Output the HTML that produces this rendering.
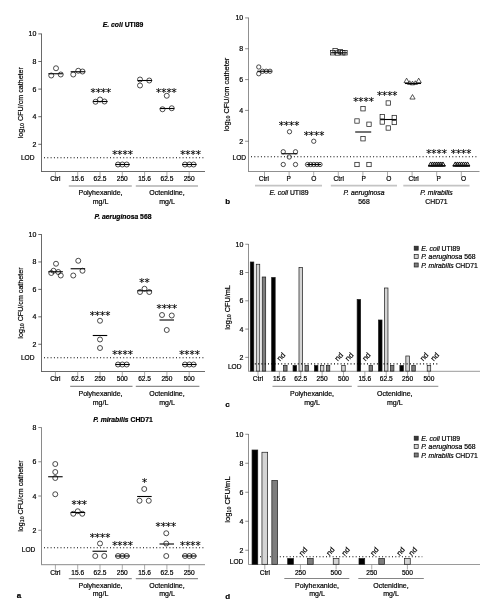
<!DOCTYPE html>
<html><head><meta charset="utf-8"><title>Figure</title>
<style>html,body{margin:0;padding:0;background:#fff}svg{display:block}text{font-family:'Liberation Sans', Arial, sans-serif;stroke:#000;stroke-width:0.2px}.st{font-family:"DejaVu Sans",sans-serif;stroke-width:0.12px}</style>
</head><body>
<svg width="496" height="616" viewBox="0 0 496 616">
<rect width="496" height="616" fill="#fff"/>
<line x1="41.5" y1="33.6" x2="41.5" y2="171.5" stroke="#444" stroke-width="0.8" />
<line x1="41.1" y1="171.5" x2="205" y2="171.5" stroke="#444" stroke-width="0.8" />
<line x1="38.3" y1="144.3" x2="41.5" y2="144.3" stroke="#444" stroke-width="0.8" />
<text x="36.3" y="146.8" font-size="7" text-anchor="end" font-weight="normal" font-style="normal" fill="#000" >2</text>
<line x1="38.3" y1="116.7" x2="41.5" y2="116.7" stroke="#444" stroke-width="0.8" />
<text x="36.3" y="119.2" font-size="7" text-anchor="end" font-weight="normal" font-style="normal" fill="#000" >4</text>
<line x1="38.3" y1="89.1" x2="41.5" y2="89.1" stroke="#444" stroke-width="0.8" />
<text x="36.3" y="91.6" font-size="7" text-anchor="end" font-weight="normal" font-style="normal" fill="#000" >6</text>
<line x1="38.3" y1="61.5" x2="41.5" y2="61.5" stroke="#444" stroke-width="0.8" />
<text x="36.3" y="64.0" font-size="7" text-anchor="end" font-weight="normal" font-style="normal" fill="#000" >8</text>
<line x1="38.3" y1="33.900000000000006" x2="41.5" y2="33.900000000000006" stroke="#444" stroke-width="0.8" />
<text x="36.3" y="36.400000000000006" font-size="7" text-anchor="end" font-weight="normal" font-style="normal" fill="#000" >10</text>
<text x="34.5" y="160.3" font-size="6.6" text-anchor="end" font-weight="normal" font-style="normal" fill="#000" >LOD</text>
<line x1="44" y1="157.8" x2="204.5" y2="157.8" stroke="#000" stroke-width="1.1" stroke-dasharray="1.0 2.3"/>
<line x1="55.4" y1="171.5" x2="55.4" y2="176.5" stroke="#888" stroke-width="0.7" />
<text x="55.4" y="180.8" font-size="6.6" text-anchor="middle" font-weight="normal" font-style="normal" fill="#000" >Ctrl</text>
<line x1="77.7" y1="171.5" x2="77.7" y2="176.5" stroke="#888" stroke-width="0.7" />
<text x="77.7" y="180.8" font-size="6.6" text-anchor="middle" font-weight="normal" font-style="normal" fill="#000" >15.6</text>
<line x1="100.0" y1="171.5" x2="100.0" y2="176.5" stroke="#888" stroke-width="0.7" />
<text x="100.0" y="180.8" font-size="6.6" text-anchor="middle" font-weight="normal" font-style="normal" fill="#000" >62.5</text>
<line x1="122.30000000000001" y1="171.5" x2="122.30000000000001" y2="176.5" stroke="#888" stroke-width="0.7" />
<text x="122.30000000000001" y="180.8" font-size="6.6" text-anchor="middle" font-weight="normal" font-style="normal" fill="#000" >250</text>
<line x1="144.6" y1="171.5" x2="144.6" y2="176.5" stroke="#888" stroke-width="0.7" />
<text x="144.6" y="180.8" font-size="6.6" text-anchor="middle" font-weight="normal" font-style="normal" fill="#000" >15.6</text>
<line x1="166.9" y1="171.5" x2="166.9" y2="176.5" stroke="#888" stroke-width="0.7" />
<text x="166.9" y="180.8" font-size="6.6" text-anchor="middle" font-weight="normal" font-style="normal" fill="#000" >62.5</text>
<line x1="189.20000000000002" y1="171.5" x2="189.20000000000002" y2="176.5" stroke="#888" stroke-width="0.7" />
<text x="189.20000000000002" y="180.8" font-size="6.6" text-anchor="middle" font-weight="normal" font-style="normal" fill="#000" >250</text>
<text x="123" y="27.3" font-size="6.8" text-anchor="middle" font-weight="bold" stroke="none" fill="#000"><tspan font-style="italic">E. coli</tspan> UTI89</text>
<text transform="translate(23.3 102.7) rotate(-90)" font-size="7.15" text-anchor="middle" fill="#000">log<tspan font-size="5.2" dy="1">10</tspan><tspan dy="-1"> CFU/cm catheter</tspan></text>
<line x1="68.8" y1="186.0" x2="131.8" y2="186.0" stroke="#c4c4c4" stroke-width="1.8" />
<line x1="135.8" y1="186.0" x2="198" y2="186.0" stroke="#c4c4c4" stroke-width="1.8" />
<text x="100.5" y="195.0" font-size="7" text-anchor="middle" font-weight="normal" font-style="normal" fill="#000" >Polyhexanide,</text>
<text x="100.5" y="204.0" font-size="7" text-anchor="middle" font-weight="normal" font-style="normal" fill="#000" >mg/L</text>
<text x="167" y="195.0" font-size="7" text-anchor="middle" font-weight="normal" font-style="normal" fill="#000" >Octenidine,</text>
<text x="167" y="204.0" font-size="7" text-anchor="middle" font-weight="normal" font-style="normal" fill="#000" >mg/L</text>
<line x1="48.35" y1="73.75" x2="62.85" y2="73.75" stroke="#000" stroke-width="1.1" />
<circle cx="51.25" cy="75.5" r="2.5" fill="none" stroke="#111" stroke-width="0.75"/>
<circle cx="56" cy="68.25" r="2.5" fill="none" stroke="#111" stroke-width="0.75"/>
<circle cx="60.75" cy="74.5" r="2.5" fill="none" stroke="#111" stroke-width="0.75"/>
<line x1="70.65" y1="71.75" x2="85.15" y2="71.75" stroke="#000" stroke-width="1.1" />
<circle cx="73.25" cy="74.5" r="2.5" fill="none" stroke="#111" stroke-width="0.75"/>
<circle cx="78.25" cy="70.75" r="2.5" fill="none" stroke="#111" stroke-width="0.75"/>
<circle cx="82.5" cy="71.5" r="2.5" fill="none" stroke="#111" stroke-width="0.75"/>
<line x1="93.05" y1="101.5" x2="107.55" y2="101.5" stroke="#000" stroke-width="1.1" />
<circle cx="95.5" cy="101.75" r="2.5" fill="none" stroke="#111" stroke-width="0.75"/>
<circle cx="100" cy="99.5" r="2.5" fill="none" stroke="#111" stroke-width="0.75"/>
<circle cx="104.5" cy="101.5" r="2.5" fill="none" stroke="#111" stroke-width="0.75"/>
<text x="100.8" y="96.25" font-size="10.3" text-anchor="middle" font-weight="normal" font-style="normal" fill="#000" class="st">****</text>
<line x1="115.25" y1="164.5" x2="129.75" y2="164.5" stroke="#000" stroke-width="1.1" />
<circle cx="118" cy="164.5" r="2.5" fill="none" stroke="#111" stroke-width="0.75"/>
<circle cx="122.3" cy="164.5" r="2.5" fill="none" stroke="#111" stroke-width="0.75"/>
<circle cx="126.7" cy="164.5" r="2.5" fill="none" stroke="#111" stroke-width="0.75"/>
<text x="122.5" y="158.0" font-size="10.3" text-anchor="middle" font-weight="normal" font-style="normal" fill="#000" class="st">****</text>
<line x1="137.55" y1="80.5" x2="152.05" y2="80.5" stroke="#000" stroke-width="1.1" />
<circle cx="140" cy="79.5" r="2.5" fill="none" stroke="#111" stroke-width="0.75"/>
<circle cx="140" cy="85.5" r="2.5" fill="none" stroke="#111" stroke-width="0.75"/>
<circle cx="149.25" cy="80.5" r="2.5" fill="none" stroke="#111" stroke-width="0.75"/>
<line x1="159.75" y1="108.5" x2="174.25" y2="108.5" stroke="#000" stroke-width="1.1" />
<circle cx="166.75" cy="95.75" r="2.5" fill="none" stroke="#111" stroke-width="0.75"/>
<circle cx="162.5" cy="109.25" r="2.5" fill="none" stroke="#111" stroke-width="0.75"/>
<circle cx="171.75" cy="108.25" r="2.5" fill="none" stroke="#111" stroke-width="0.75"/>
<text x="166.4" y="95.5" font-size="10.3" text-anchor="middle" font-weight="normal" font-style="normal" fill="#000" class="st">****</text>
<line x1="182.05" y1="164.5" x2="196.55" y2="164.5" stroke="#000" stroke-width="1.1" />
<circle cx="185" cy="164.5" r="2.5" fill="none" stroke="#111" stroke-width="0.75"/>
<circle cx="189.3" cy="164.5" r="2.5" fill="none" stroke="#111" stroke-width="0.75"/>
<circle cx="193.6" cy="164.5" r="2.5" fill="none" stroke="#111" stroke-width="0.75"/>
<text x="190.5" y="158.0" font-size="10.3" text-anchor="middle" font-weight="normal" font-style="normal" fill="#000" class="st">****</text>
<line x1="41.5" y1="234.2" x2="41.5" y2="371.5" stroke="#444" stroke-width="0.8" />
<line x1="41.1" y1="371.5" x2="205" y2="371.5" stroke="#444" stroke-width="0.8" />
<line x1="38.3" y1="344.26" x2="41.5" y2="344.26" stroke="#444" stroke-width="0.8" />
<text x="36.3" y="346.76" font-size="7" text-anchor="end" font-weight="normal" font-style="normal" fill="#000" >2</text>
<line x1="38.3" y1="316.82" x2="41.5" y2="316.82" stroke="#444" stroke-width="0.8" />
<text x="36.3" y="319.32" font-size="7" text-anchor="end" font-weight="normal" font-style="normal" fill="#000" >4</text>
<line x1="38.3" y1="289.38" x2="41.5" y2="289.38" stroke="#444" stroke-width="0.8" />
<text x="36.3" y="291.88" font-size="7" text-anchor="end" font-weight="normal" font-style="normal" fill="#000" >6</text>
<line x1="38.3" y1="261.94" x2="41.5" y2="261.94" stroke="#444" stroke-width="0.8" />
<text x="36.3" y="264.44" font-size="7" text-anchor="end" font-weight="normal" font-style="normal" fill="#000" >8</text>
<line x1="38.3" y1="234.49999999999997" x2="41.5" y2="234.49999999999997" stroke="#444" stroke-width="0.8" />
<text x="36.3" y="236.99999999999997" font-size="7" text-anchor="end" font-weight="normal" font-style="normal" fill="#000" >10</text>
<text x="34.5" y="360.3" font-size="6.6" text-anchor="end" font-weight="normal" font-style="normal" fill="#000" >LOD</text>
<line x1="44" y1="357.8" x2="204.5" y2="357.8" stroke="#000" stroke-width="1.1" stroke-dasharray="1.0 2.3"/>
<line x1="55.4" y1="371.5" x2="55.4" y2="376.5" stroke="#888" stroke-width="0.7" />
<text x="55.4" y="380.8" font-size="6.6" text-anchor="middle" font-weight="normal" font-style="normal" fill="#000" >Ctrl</text>
<line x1="77.7" y1="371.5" x2="77.7" y2="376.5" stroke="#888" stroke-width="0.7" />
<text x="77.7" y="380.8" font-size="6.6" text-anchor="middle" font-weight="normal" font-style="normal" fill="#000" >62.5</text>
<line x1="100.0" y1="371.5" x2="100.0" y2="376.5" stroke="#888" stroke-width="0.7" />
<text x="100.0" y="380.8" font-size="6.6" text-anchor="middle" font-weight="normal" font-style="normal" fill="#000" >250</text>
<line x1="122.30000000000001" y1="371.5" x2="122.30000000000001" y2="376.5" stroke="#888" stroke-width="0.7" />
<text x="122.30000000000001" y="380.8" font-size="6.6" text-anchor="middle" font-weight="normal" font-style="normal" fill="#000" >500</text>
<line x1="144.6" y1="371.5" x2="144.6" y2="376.5" stroke="#888" stroke-width="0.7" />
<text x="144.6" y="380.8" font-size="6.6" text-anchor="middle" font-weight="normal" font-style="normal" fill="#000" >62.5</text>
<line x1="166.9" y1="371.5" x2="166.9" y2="376.5" stroke="#888" stroke-width="0.7" />
<text x="166.9" y="380.8" font-size="6.6" text-anchor="middle" font-weight="normal" font-style="normal" fill="#000" >250</text>
<line x1="189.20000000000002" y1="371.5" x2="189.20000000000002" y2="376.5" stroke="#888" stroke-width="0.7" />
<text x="189.20000000000002" y="380.8" font-size="6.6" text-anchor="middle" font-weight="normal" font-style="normal" fill="#000" >500</text>
<text x="123" y="219.2" font-size="6.8" text-anchor="middle" font-weight="bold" stroke="none" fill="#000"><tspan font-style="italic">P. aeruginosa</tspan> 568</text>
<text transform="translate(23.3 303.0) rotate(-90)" font-size="7.15" text-anchor="middle" fill="#000">log<tspan font-size="5.2" dy="1">10</tspan><tspan dy="-1"> CFU/cm catheter</tspan></text>
<line x1="70.2" y1="386.3" x2="132.5" y2="386.3" stroke="#333" stroke-width="0.7" />
<line x1="135.8" y1="386.3" x2="199.4" y2="386.3" stroke="#333" stroke-width="0.7" />
<text x="100.5" y="395.8" font-size="7" text-anchor="middle" font-weight="normal" font-style="normal" fill="#000" >Polyhexanide,</text>
<text x="100.5" y="404.8" font-size="7" text-anchor="middle" font-weight="normal" font-style="normal" fill="#000" >mg/L</text>
<text x="167" y="395.8" font-size="7" text-anchor="middle" font-weight="normal" font-style="normal" fill="#000" >Octenidine,</text>
<text x="167" y="404.8" font-size="7" text-anchor="middle" font-weight="normal" font-style="normal" fill="#000" >mg/L</text>
<line x1="48.35" y1="271.75" x2="62.85" y2="271.75" stroke="#000" stroke-width="1.1" />
<circle cx="51.25" cy="273" r="2.5" fill="none" stroke="#111" stroke-width="0.75"/>
<circle cx="53.5" cy="270.75" r="2.5" fill="none" stroke="#111" stroke-width="0.75"/>
<circle cx="56" cy="263.75" r="2.5" fill="none" stroke="#111" stroke-width="0.75"/>
<circle cx="58.25" cy="272" r="2.5" fill="none" stroke="#111" stroke-width="0.75"/>
<circle cx="60.75" cy="275.5" r="2.5" fill="none" stroke="#111" stroke-width="0.75"/>
<line x1="70.65" y1="268.75" x2="85.15" y2="268.75" stroke="#000" stroke-width="1.1" />
<circle cx="73.25" cy="275.5" r="2.5" fill="none" stroke="#111" stroke-width="0.75"/>
<circle cx="78.25" cy="260.75" r="2.5" fill="none" stroke="#111" stroke-width="0.75"/>
<circle cx="82.5" cy="270.75" r="2.5" fill="none" stroke="#111" stroke-width="0.75"/>
<line x1="92.75" y1="335.5" x2="107.25" y2="335.5" stroke="#000" stroke-width="1.1" />
<circle cx="100" cy="320.75" r="2.5" fill="none" stroke="#111" stroke-width="0.75"/>
<circle cx="100" cy="339.5" r="2.5" fill="none" stroke="#111" stroke-width="0.75"/>
<circle cx="100" cy="348" r="2.5" fill="none" stroke="#111" stroke-width="0.75"/>
<text x="100" y="318.75" font-size="10.3" text-anchor="middle" font-weight="normal" font-style="normal" fill="#000" class="st">****</text>
<line x1="115.25" y1="364.5" x2="129.75" y2="364.5" stroke="#000" stroke-width="1.1" />
<circle cx="118" cy="364.5" r="2.5" fill="none" stroke="#111" stroke-width="0.75"/>
<circle cx="122.3" cy="364.5" r="2.5" fill="none" stroke="#111" stroke-width="0.75"/>
<circle cx="126.7" cy="364.5" r="2.5" fill="none" stroke="#111" stroke-width="0.75"/>
<text x="122.5" y="358.0" font-size="10.3" text-anchor="middle" font-weight="normal" font-style="normal" fill="#000" class="st">****</text>
<line x1="137.35" y1="290.75" x2="151.85" y2="290.75" stroke="#000" stroke-width="1.1" />
<circle cx="140" cy="292" r="2.5" fill="none" stroke="#111" stroke-width="0.75"/>
<circle cx="144.5" cy="288.75" r="2.5" fill="none" stroke="#111" stroke-width="0.75"/>
<circle cx="149.25" cy="292" r="2.5" fill="none" stroke="#111" stroke-width="0.75"/>
<text x="144.5" y="286.25" font-size="10.3" text-anchor="middle" font-weight="normal" font-style="normal" fill="#000" class="st">**</text>
<line x1="159.5" y1="320" x2="174.0" y2="320" stroke="#000" stroke-width="1.1" />
<circle cx="162" cy="315" r="2.5" fill="none" stroke="#111" stroke-width="0.75"/>
<circle cx="171.75" cy="315.5" r="2.5" fill="none" stroke="#111" stroke-width="0.75"/>
<circle cx="166.75" cy="330" r="2.5" fill="none" stroke="#111" stroke-width="0.75"/>
<text x="166.8" y="311.5" font-size="10.3" text-anchor="middle" font-weight="normal" font-style="normal" fill="#000" class="st">****</text>
<line x1="182.05" y1="364.5" x2="196.55" y2="364.5" stroke="#000" stroke-width="1.1" />
<circle cx="185" cy="364.5" r="2.5" fill="none" stroke="#111" stroke-width="0.75"/>
<circle cx="189.3" cy="364.5" r="2.5" fill="none" stroke="#111" stroke-width="0.75"/>
<circle cx="193.6" cy="364.5" r="2.5" fill="none" stroke="#111" stroke-width="0.75"/>
<text x="189.5" y="358.0" font-size="10.3" text-anchor="middle" font-weight="normal" font-style="normal" fill="#000" class="st">****</text>
<line x1="41.5" y1="427.2" x2="41.5" y2="564.7" stroke="#8a8a8a" stroke-width="1.0" />
<line x1="41.0" y1="564.7" x2="205" y2="564.7" stroke="#8a8a8a" stroke-width="1.0" />
<line x1="38.3" y1="530.26" x2="41.5" y2="530.26" stroke="#8a8a8a" stroke-width="1.0" />
<text x="36.3" y="532.76" font-size="7" text-anchor="end" font-weight="normal" font-style="normal" fill="#000" >2</text>
<line x1="38.3" y1="496.02" x2="41.5" y2="496.02" stroke="#8a8a8a" stroke-width="1.0" />
<text x="36.3" y="498.52" font-size="7" text-anchor="end" font-weight="normal" font-style="normal" fill="#000" >4</text>
<line x1="38.3" y1="461.78" x2="41.5" y2="461.78" stroke="#8a8a8a" stroke-width="1.0" />
<text x="36.3" y="464.28" font-size="7" text-anchor="end" font-weight="normal" font-style="normal" fill="#000" >6</text>
<line x1="38.3" y1="427.53999999999996" x2="41.5" y2="427.53999999999996" stroke="#8a8a8a" stroke-width="1.0" />
<text x="36.3" y="430.03999999999996" font-size="7" text-anchor="end" font-weight="normal" font-style="normal" fill="#000" >8</text>
<text x="35.3" y="552.1" font-size="6.6" text-anchor="end" font-weight="normal" font-style="normal" fill="#000" >LOD</text>
<line x1="44" y1="547.8" x2="204.5" y2="547.8" stroke="#000" stroke-width="1.1" stroke-dasharray="1.0 2.3"/>
<line x1="55.4" y1="564.7" x2="55.4" y2="569.7" stroke="#888" stroke-width="0.7" />
<text x="55.4" y="575.0" font-size="6.6" text-anchor="middle" font-weight="normal" font-style="normal" fill="#000" >Ctrl</text>
<line x1="77.7" y1="564.7" x2="77.7" y2="569.7" stroke="#888" stroke-width="0.7" />
<text x="77.7" y="575.0" font-size="6.6" text-anchor="middle" font-weight="normal" font-style="normal" fill="#000" >15.6</text>
<line x1="100.0" y1="564.7" x2="100.0" y2="569.7" stroke="#888" stroke-width="0.7" />
<text x="100.0" y="575.0" font-size="6.6" text-anchor="middle" font-weight="normal" font-style="normal" fill="#000" >62.5</text>
<line x1="122.30000000000001" y1="564.7" x2="122.30000000000001" y2="569.7" stroke="#888" stroke-width="0.7" />
<text x="122.30000000000001" y="575.0" font-size="6.6" text-anchor="middle" font-weight="normal" font-style="normal" fill="#000" >250</text>
<line x1="144.6" y1="564.7" x2="144.6" y2="569.7" stroke="#888" stroke-width="0.7" />
<text x="144.6" y="575.0" font-size="6.6" text-anchor="middle" font-weight="normal" font-style="normal" fill="#000" >15.6</text>
<line x1="166.9" y1="564.7" x2="166.9" y2="569.7" stroke="#888" stroke-width="0.7" />
<text x="166.9" y="575.0" font-size="6.6" text-anchor="middle" font-weight="normal" font-style="normal" fill="#000" >62.5</text>
<line x1="189.20000000000002" y1="564.7" x2="189.20000000000002" y2="569.7" stroke="#888" stroke-width="0.7" />
<text x="189.20000000000002" y="575.0" font-size="6.6" text-anchor="middle" font-weight="normal" font-style="normal" fill="#000" >250</text>
<text x="123" y="422.0" font-size="6.8" text-anchor="middle" font-weight="bold" stroke="none" fill="#000"><tspan font-style="italic">P. mirabilis</tspan> CHD71</text>
<text transform="translate(23.3 496.1) rotate(-90)" font-size="7.15" text-anchor="middle" fill="#000">log<tspan font-size="5.2" dy="1">10</tspan><tspan dy="-1"> CFU/cm catheter</tspan></text>
<line x1="68.8" y1="578.7" x2="131.8" y2="578.7" stroke="#333" stroke-width="0.7" />
<line x1="135.8" y1="578.7" x2="198" y2="578.7" stroke="#333" stroke-width="0.7" />
<text x="100.5" y="587.5" font-size="7" text-anchor="middle" font-weight="normal" font-style="normal" fill="#000" >Polyhexanide,</text>
<text x="100.5" y="595.8" font-size="7" text-anchor="middle" font-weight="normal" font-style="normal" fill="#000" >mg/L</text>
<text x="167" y="587.5" font-size="7" text-anchor="middle" font-weight="normal" font-style="normal" fill="#000" >Octenidine,</text>
<text x="167" y="595.8" font-size="7" text-anchor="middle" font-weight="normal" font-style="normal" fill="#000" >mg/L</text>
<line x1="48.15" y1="476.75" x2="62.65" y2="476.75" stroke="#000" stroke-width="1.1" />
<circle cx="55.25" cy="464" r="2.5" fill="none" stroke="#111" stroke-width="0.75"/>
<circle cx="55.25" cy="472" r="2.5" fill="none" stroke="#111" stroke-width="0.75"/>
<circle cx="55.25" cy="478" r="2.5" fill="none" stroke="#111" stroke-width="0.75"/>
<circle cx="55.25" cy="494.25" r="2.5" fill="none" stroke="#111" stroke-width="0.75"/>
<line x1="70.65" y1="512.5" x2="85.15" y2="512.5" stroke="#000" stroke-width="1.1" />
<circle cx="73.25" cy="513.75" r="2.5" fill="none" stroke="#111" stroke-width="0.75"/>
<circle cx="77.75" cy="511.25" r="2.5" fill="none" stroke="#111" stroke-width="0.75"/>
<circle cx="82.25" cy="513.75" r="2.5" fill="none" stroke="#111" stroke-width="0.75"/>
<text x="79.25" y="507.5" font-size="10.3" text-anchor="middle" font-weight="normal" font-style="normal" fill="#000" class="st">***</text>
<line x1="92.5" y1="551.25" x2="107.0" y2="551.25" stroke="#000" stroke-width="1.1" />
<circle cx="100" cy="543.5" r="2.5" fill="none" stroke="#111" stroke-width="0.75"/>
<circle cx="95.25" cy="556" r="2.5" fill="none" stroke="#111" stroke-width="0.75"/>
<circle cx="104.25" cy="556" r="2.5" fill="none" stroke="#111" stroke-width="0.75"/>
<text x="100" y="541.25" font-size="10.3" text-anchor="middle" font-weight="normal" font-style="normal" fill="#000" class="st">****</text>
<line x1="115.25" y1="556" x2="129.75" y2="556" stroke="#000" stroke-width="1.1" />
<circle cx="118" cy="556" r="2.5" fill="none" stroke="#111" stroke-width="0.75"/>
<circle cx="122.3" cy="556" r="2.5" fill="none" stroke="#111" stroke-width="0.75"/>
<circle cx="126.7" cy="556" r="2.5" fill="none" stroke="#111" stroke-width="0.75"/>
<text x="122.5" y="549.25" font-size="10.3" text-anchor="middle" font-weight="normal" font-style="normal" fill="#000" class="st">****</text>
<line x1="137.15" y1="496.5" x2="151.65" y2="496.5" stroke="#000" stroke-width="1.1" />
<circle cx="144.25" cy="489" r="2.5" fill="none" stroke="#111" stroke-width="0.75"/>
<circle cx="139.5" cy="500.75" r="2.5" fill="none" stroke="#111" stroke-width="0.75"/>
<circle cx="148.75" cy="500.75" r="2.5" fill="none" stroke="#111" stroke-width="0.75"/>
<text x="144.5" y="486.25" font-size="10.3" text-anchor="middle" font-weight="normal" font-style="normal" fill="#000" class="st">*</text>
<line x1="159.5" y1="544" x2="174.0" y2="544" stroke="#000" stroke-width="1.1" />
<circle cx="166.25" cy="533.25" r="2.5" fill="none" stroke="#111" stroke-width="0.75"/>
<circle cx="166.25" cy="543.5" r="2.5" fill="none" stroke="#111" stroke-width="0.75"/>
<circle cx="166.25" cy="556" r="2.5" fill="none" stroke="#111" stroke-width="0.75"/>
<text x="165.8" y="530.0" font-size="10.3" text-anchor="middle" font-weight="normal" font-style="normal" fill="#000" class="st">****</text>
<line x1="182.05" y1="556" x2="196.55" y2="556" stroke="#000" stroke-width="1.1" />
<circle cx="185" cy="556" r="2.5" fill="none" stroke="#111" stroke-width="0.75"/>
<circle cx="189.3" cy="556" r="2.5" fill="none" stroke="#111" stroke-width="0.75"/>
<circle cx="193.6" cy="556" r="2.5" fill="none" stroke="#111" stroke-width="0.75"/>
<text x="190.3" y="548.75" font-size="10.3" text-anchor="middle" font-weight="normal" font-style="normal" fill="#000" class="st">****</text>
<text x="16.8" y="598" font-size="8" text-anchor="start" font-weight="bold" font-style="normal" fill="#000" >a</text>
<line x1="248.5" y1="17.599999999999998" x2="248.5" y2="171.5" stroke="#444" stroke-width="0.6" />
<line x1="248.2" y1="171.5" x2="479.5" y2="171.5" stroke="#444" stroke-width="0.6" />
<line x1="245.1" y1="141.26" x2="248.5" y2="141.26" stroke="#444" stroke-width="0.6" />
<text x="243.2" y="143.76" font-size="7" text-anchor="end" font-weight="normal" font-style="normal" fill="#000" >2</text>
<line x1="245.1" y1="110.41999999999999" x2="248.5" y2="110.41999999999999" stroke="#444" stroke-width="0.6" />
<text x="243.2" y="112.91999999999999" font-size="7" text-anchor="end" font-weight="normal" font-style="normal" fill="#000" >4</text>
<line x1="245.1" y1="79.58" x2="248.5" y2="79.58" stroke="#444" stroke-width="0.6" />
<text x="243.2" y="82.08" font-size="7" text-anchor="end" font-weight="normal" font-style="normal" fill="#000" >6</text>
<line x1="245.1" y1="48.739999999999995" x2="248.5" y2="48.739999999999995" stroke="#444" stroke-width="0.6" />
<text x="243.2" y="51.239999999999995" font-size="7" text-anchor="end" font-weight="normal" font-style="normal" fill="#000" >8</text>
<line x1="245.1" y1="17.900000000000006" x2="248.5" y2="17.900000000000006" stroke="#444" stroke-width="0.6" />
<text x="243.2" y="20.400000000000006" font-size="7" text-anchor="end" font-weight="normal" font-style="normal" fill="#000" >10</text>
<text x="246.1" y="159.6" font-size="6.6" text-anchor="end" font-weight="normal" font-style="normal" fill="#000" >LOD</text>
<line x1="251" y1="156.8" x2="476.5" y2="156.8" stroke="#000" stroke-width="1.1" stroke-dasharray="1.0 2.3"/>
<text transform="translate(229 94.5) rotate(-90)" font-size="7.4" text-anchor="middle" fill="#000">log<tspan font-size="5.2" dy="1">10</tspan><tspan dy="-1"> CFU/cm catheter</tspan></text>
<line x1="264.5" y1="171.5" x2="264.5" y2="176.5" stroke="#888" stroke-width="0.7" />
<text x="263.8" y="181.0" font-size="6.6" text-anchor="middle" font-weight="normal" font-style="normal" fill="#000" >Ctrl</text>
<line x1="289.1" y1="171.5" x2="289.1" y2="176.5" stroke="#888" stroke-width="0.7" />
<text x="288.78000000000003" y="181.0" font-size="6.6" text-anchor="middle" font-weight="normal" font-style="normal" fill="#000" >P</text>
<line x1="313.7" y1="171.5" x2="313.7" y2="176.5" stroke="#888" stroke-width="0.7" />
<text x="313.76" y="181.0" font-size="6.6" text-anchor="middle" font-weight="normal" font-style="normal" fill="#000" >O</text>
<line x1="338.3" y1="171.5" x2="338.3" y2="176.5" stroke="#888" stroke-width="0.7" />
<text x="338.74" y="181.0" font-size="6.6" text-anchor="middle" font-weight="normal" font-style="normal" fill="#000" >Ctrl</text>
<line x1="362.9" y1="171.5" x2="362.9" y2="176.5" stroke="#888" stroke-width="0.7" />
<text x="363.72" y="181.0" font-size="6.6" text-anchor="middle" font-weight="normal" font-style="normal" fill="#000" >P</text>
<line x1="387.5" y1="171.5" x2="387.5" y2="176.5" stroke="#888" stroke-width="0.7" />
<text x="388.70000000000005" y="181.0" font-size="6.6" text-anchor="middle" font-weight="normal" font-style="normal" fill="#000" >O</text>
<line x1="412.1" y1="171.5" x2="412.1" y2="176.5" stroke="#888" stroke-width="0.7" />
<text x="413.68" y="181.0" font-size="6.6" text-anchor="middle" font-weight="normal" font-style="normal" fill="#000" >Ctrl</text>
<line x1="436.70000000000005" y1="171.5" x2="436.70000000000005" y2="176.5" stroke="#888" stroke-width="0.7" />
<text x="438.66" y="181.0" font-size="6.6" text-anchor="middle" font-weight="normal" font-style="normal" fill="#000" >P</text>
<line x1="461.3" y1="171.5" x2="461.3" y2="176.5" stroke="#888" stroke-width="0.7" />
<text x="463.64" y="181.0" font-size="6.6" text-anchor="middle" font-weight="normal" font-style="normal" fill="#000" >O</text>
<line x1="255" y1="185.7" x2="322" y2="185.7" stroke="#c4c4c4" stroke-width="1.8" />
<line x1="330.8" y1="185.7" x2="397" y2="185.7" stroke="#c4c4c4" stroke-width="1.8" />
<line x1="403.3" y1="185.7" x2="469.5" y2="185.7" stroke="#c4c4c4" stroke-width="1.8" />
<text x="289" y="195.2" font-size="6.8" text-anchor="middle" fill="#000"><tspan font-style="italic">E. coli</tspan> UTI89</text>
<text x="364" y="195.2" font-size="6.8" text-anchor="middle" font-style="italic" fill="#000">P. aeruginosa</text>
<text x="364" y="203.9" font-size="6.8" text-anchor="middle" font-weight="normal" font-style="normal" fill="#000" >568</text>
<text x="436.5" y="195.2" font-size="6.8" text-anchor="middle" font-style="italic" fill="#000">P. mirabilis</text>
<text x="436.5" y="203.9" font-size="6.8" text-anchor="middle" font-weight="normal" font-style="normal" fill="#000" >CHD71</text>
<text x="225.2" y="204.2" font-size="8" text-anchor="start" font-weight="bold" font-style="normal" fill="#000" >b</text>
<line x1="257.25" y1="71.25" x2="271.75" y2="71.25" stroke="#000" stroke-width="1.1" />
<circle cx="258.75" cy="67" r="2.15" fill="none" stroke="#111" stroke-width="0.75"/>
<circle cx="258.75" cy="73.75" r="2.15" fill="none" stroke="#111" stroke-width="0.75"/>
<circle cx="262.5" cy="71.25" r="2.15" fill="none" stroke="#111" stroke-width="0.75"/>
<circle cx="266.25" cy="71.25" r="2.15" fill="none" stroke="#111" stroke-width="0.75"/>
<circle cx="270" cy="71.25" r="2.15" fill="none" stroke="#111" stroke-width="0.75"/>
<line x1="281.4" y1="153.75" x2="297.4" y2="153.75" stroke="#000" stroke-width="1.1" />
<circle cx="289.5" cy="131.75" r="2.15" fill="none" stroke="#111" stroke-width="0.75"/>
<circle cx="283.25" cy="151.75" r="2.15" fill="none" stroke="#111" stroke-width="0.75"/>
<circle cx="295.5" cy="151.75" r="2.15" fill="none" stroke="#111" stroke-width="0.75"/>
<circle cx="289.25" cy="157" r="2.15" fill="none" stroke="#111" stroke-width="0.75"/>
<circle cx="283.25" cy="164.5" r="2.15" fill="none" stroke="#111" stroke-width="0.75"/>
<circle cx="295.5" cy="164.5" r="2.15" fill="none" stroke="#111" stroke-width="0.75"/>
<text x="289" y="128.8" font-size="10.3" text-anchor="middle" font-weight="normal" font-style="normal" fill="#000" class="st">****</text>
<line x1="306.5" y1="164.5" x2="321.0" y2="164.5" stroke="#000" stroke-width="1.1" />
<circle cx="313.75" cy="141.25" r="2.15" fill="none" stroke="#111" stroke-width="0.75"/>
<circle cx="307.5" cy="164.5" r="2.15" fill="none" stroke="#111" stroke-width="0.75"/>
<circle cx="310.6" cy="164.5" r="2.15" fill="none" stroke="#111" stroke-width="0.75"/>
<circle cx="313.75" cy="164.5" r="2.15" fill="none" stroke="#111" stroke-width="0.75"/>
<circle cx="316.9" cy="164.5" r="2.15" fill="none" stroke="#111" stroke-width="0.75"/>
<circle cx="320" cy="164.5" r="2.15" fill="none" stroke="#111" stroke-width="0.75"/>
<text x="314" y="139.25" font-size="10.3" text-anchor="middle" font-weight="normal" font-style="normal" fill="#000" class="st">****</text>
<line x1="331.0" y1="52.8" x2="347.0" y2="52.8" stroke="#000" stroke-width="1.1" />
<rect x="330.425" y="50.625" width="4.35" height="4.35" fill="none" stroke="#111" stroke-width="0.7"/>
<rect x="332.925" y="48.425000000000004" width="4.35" height="4.35" fill="none" stroke="#111" stroke-width="0.7"/>
<rect x="338.22499999999997" y="49.525000000000006" width="4.35" height="4.35" fill="none" stroke="#111" stroke-width="0.7"/>
<rect x="335.525" y="50.825" width="4.35" height="4.35" fill="none" stroke="#111" stroke-width="0.7"/>
<rect x="340.625" y="50.625" width="4.35" height="4.35" fill="none" stroke="#111" stroke-width="0.7"/>
<rect x="342.825" y="50.625" width="4.35" height="4.35" fill="none" stroke="#111" stroke-width="0.7"/>
<line x1="355.2" y1="132" x2="371.2" y2="132" stroke="#000" stroke-width="1.1" />
<rect x="360.825" y="106.575" width="4.35" height="4.35" fill="none" stroke="#111" stroke-width="0.7"/>
<rect x="354.825" y="118.825" width="4.35" height="4.35" fill="none" stroke="#111" stroke-width="0.7"/>
<rect x="366.825" y="122.075" width="4.35" height="4.35" fill="none" stroke="#111" stroke-width="0.7"/>
<rect x="360.825" y="136.575" width="4.35" height="4.35" fill="none" stroke="#111" stroke-width="0.7"/>
<rect x="354.825" y="162.325" width="4.35" height="4.35" fill="none" stroke="#111" stroke-width="0.7"/>
<rect x="366.825" y="162.325" width="4.35" height="4.35" fill="none" stroke="#111" stroke-width="0.7"/>
<text x="363.5" y="105.0" font-size="10.3" text-anchor="middle" font-weight="normal" font-style="normal" fill="#000" class="st">****</text>
<line x1="380.3" y1="119.5" x2="396.3" y2="119.5" stroke="#000" stroke-width="1.1" />
<rect x="386.075" y="100.825" width="4.35" height="4.35" fill="none" stroke="#111" stroke-width="0.7"/>
<rect x="380.075" y="114.575" width="4.35" height="4.35" fill="none" stroke="#111" stroke-width="0.7"/>
<rect x="392.075" y="115.325" width="4.35" height="4.35" fill="none" stroke="#111" stroke-width="0.7"/>
<rect x="380.075" y="119.825" width="4.35" height="4.35" fill="none" stroke="#111" stroke-width="0.7"/>
<rect x="392.075" y="120.325" width="4.35" height="4.35" fill="none" stroke="#111" stroke-width="0.7"/>
<rect x="386.075" y="125.825" width="4.35" height="4.35" fill="none" stroke="#111" stroke-width="0.7"/>
<text x="387.2" y="99.2" font-size="10.3" text-anchor="middle" font-weight="normal" font-style="normal" fill="#000" class="st">****</text>
<line x1="405.0" y1="83.5" x2="421.0" y2="83.5" stroke="#000" stroke-width="1.1" />
<path d="M404.00 82.65L409.20 82.65L406.60 78.15Z" fill="none" stroke="#111" stroke-width="0.7"/>
<path d="M407.60 84.42L411.80 84.42L409.70 80.78Z" fill="none" stroke="#111" stroke-width="0.7"/>
<path d="M410.40 84.82L414.60 84.82L412.50 81.18Z" fill="none" stroke="#111" stroke-width="0.7"/>
<path d="M413.20 84.42L417.40 84.42L415.30 80.78Z" fill="none" stroke="#111" stroke-width="0.7"/>
<path d="M416.10 82.65L421.30 82.65L418.70 78.15Z" fill="none" stroke="#111" stroke-width="0.7"/>
<path d="M409.90 99.05L415.10 99.05L412.50 94.55Z" fill="none" stroke="#111" stroke-width="0.7"/>
<line x1="428.2" y1="165.8" x2="445.40000000000003" y2="165.8" stroke="#000" stroke-width="1.5" />
<path d="M428.30 166.04L433.00 166.04L430.65 161.96Z" fill="none" stroke="#111" stroke-width="1.0"/>
<path d="M430.35 166.04L435.05 166.04L432.70 161.96Z" fill="none" stroke="#111" stroke-width="1.0"/>
<path d="M432.40 166.04L437.10 166.04L434.75 161.96Z" fill="none" stroke="#111" stroke-width="1.0"/>
<path d="M434.45 166.04L439.15 166.04L436.80 161.96Z" fill="none" stroke="#111" stroke-width="1.0"/>
<path d="M436.50 166.04L441.20 166.04L438.85 161.96Z" fill="none" stroke="#111" stroke-width="1.0"/>
<path d="M438.55 166.04L443.25 166.04L440.90 161.96Z" fill="none" stroke="#111" stroke-width="1.0"/>
<path d="M440.60 166.04L445.30 166.04L442.95 161.96Z" fill="none" stroke="#111" stroke-width="1.0"/>
<text x="436.5" y="156.8" font-size="10.3" text-anchor="middle" font-weight="normal" font-style="normal" fill="#000" class="st">****</text>
<line x1="452.79999999999995" y1="165.8" x2="470.0" y2="165.8" stroke="#000" stroke-width="1.5" />
<path d="M452.90 166.04L457.60 166.04L455.25 161.96Z" fill="none" stroke="#111" stroke-width="1.0"/>
<path d="M454.95 166.04L459.65 166.04L457.30 161.96Z" fill="none" stroke="#111" stroke-width="1.0"/>
<path d="M457.00 166.04L461.70 166.04L459.35 161.96Z" fill="none" stroke="#111" stroke-width="1.0"/>
<path d="M459.05 166.04L463.75 166.04L461.40 161.96Z" fill="none" stroke="#111" stroke-width="1.0"/>
<path d="M461.10 166.04L465.80 166.04L463.45 161.96Z" fill="none" stroke="#111" stroke-width="1.0"/>
<path d="M463.15 166.04L467.85 166.04L465.50 161.96Z" fill="none" stroke="#111" stroke-width="1.0"/>
<path d="M465.20 166.04L469.90 166.04L467.55 161.96Z" fill="none" stroke="#111" stroke-width="1.0"/>
<text x="461.09999999999997" y="156.8" font-size="10.3" text-anchor="middle" font-weight="normal" font-style="normal" fill="#000" class="st">****</text>
<line x1="248.5" y1="244" x2="248.5" y2="371.3" stroke="#444" stroke-width="0.6" />
<line x1="248.2" y1="371.3" x2="480" y2="371.3" stroke="#9a9a9a" stroke-width="1.0" />
<line x1="245.3" y1="357.36" x2="248.5" y2="357.36" stroke="#444" stroke-width="0.6" />
<text x="243.3" y="359.86" font-size="7" text-anchor="end" font-weight="normal" font-style="normal" fill="#000" >2</text>
<line x1="245.3" y1="329.08" x2="248.5" y2="329.08" stroke="#444" stroke-width="0.6" />
<text x="243.3" y="331.58" font-size="7" text-anchor="end" font-weight="normal" font-style="normal" fill="#000" >4</text>
<line x1="245.3" y1="300.8" x2="248.5" y2="300.8" stroke="#444" stroke-width="0.6" />
<text x="243.3" y="303.3" font-size="7" text-anchor="end" font-weight="normal" font-style="normal" fill="#000" >6</text>
<line x1="245.3" y1="272.52" x2="248.5" y2="272.52" stroke="#444" stroke-width="0.6" />
<text x="243.3" y="275.02" font-size="7" text-anchor="end" font-weight="normal" font-style="normal" fill="#000" >8</text>
<line x1="245.3" y1="244.24" x2="248.5" y2="244.24" stroke="#444" stroke-width="0.6" />
<text x="243.3" y="246.74" font-size="7" text-anchor="end" font-weight="normal" font-style="normal" fill="#000" >10</text>
<text x="241.5" y="368.90000000000003" font-size="6.6" text-anchor="end" font-weight="normal" font-style="normal" fill="#000" >LOD</text>
<text transform="translate(229.5 307.5) rotate(-90)" font-size="7.3" text-anchor="middle" fill="#000">log<tspan font-size="5.2" dy="1">10</tspan><tspan dy="-1"> CFU/mL</tspan></text>
<line x1="258.0" y1="371.3" x2="258.0" y2="376.3" stroke="#888" stroke-width="0.7" />
<text x="258.0" y="380.8" font-size="6.6" text-anchor="middle" font-weight="normal" font-style="normal" fill="#000" >Ctrl</text>
<rect x="250.3" y="262" width="3.5" height="109.10000000000002" fill="#000" stroke="#1a1a1a" stroke-width="0.7"/>
<rect x="256.25" y="264.25" width="3.5" height="106.85000000000002" fill="#d4d4d4" stroke="#1a1a1a" stroke-width="0.7"/>
<rect x="262.2" y="277" width="3.5" height="94.10000000000002" fill="#7d7d7d" stroke="#1a1a1a" stroke-width="0.7"/>
<line x1="279.37" y1="371.3" x2="279.37" y2="376.3" stroke="#888" stroke-width="0.7" />
<text x="279.37" y="380.8" font-size="6.6" text-anchor="middle" font-weight="normal" font-style="normal" fill="#000" >15.6</text>
<rect x="271.67" y="277.5" width="3.5" height="93.60000000000002" fill="#000" stroke="#1a1a1a" stroke-width="0.7"/>
<text transform="translate(281.27 357.0) rotate(-47)" font-size="7.6" text-anchor="middle" y="2.2" fill="#000" stroke-width="0.3">nd</text>
<rect x="283.57" y="365.5" width="3.5" height="5.600000000000023" fill="#7d7d7d" stroke="#1a1a1a" stroke-width="0.7"/>
<line x1="300.74" y1="371.3" x2="300.74" y2="376.3" stroke="#888" stroke-width="0.7" />
<text x="300.74" y="380.8" font-size="6.6" text-anchor="middle" font-weight="normal" font-style="normal" fill="#000" >62.5</text>
<rect x="293.04" y="365.5" width="3.5" height="5.600000000000023" fill="#000" stroke="#1a1a1a" stroke-width="0.7"/>
<rect x="298.99" y="267.5" width="3.5" height="103.60000000000002" fill="#d4d4d4" stroke="#1a1a1a" stroke-width="0.7"/>
<rect x="304.94" y="365.5" width="3.5" height="5.600000000000023" fill="#7d7d7d" stroke="#1a1a1a" stroke-width="0.7"/>
<line x1="322.11" y1="371.3" x2="322.11" y2="376.3" stroke="#888" stroke-width="0.7" />
<text x="322.11" y="380.8" font-size="6.6" text-anchor="middle" font-weight="normal" font-style="normal" fill="#000" >250</text>
<rect x="314.41" y="365.5" width="3.5" height="5.600000000000023" fill="#000" stroke="#1a1a1a" stroke-width="0.7"/>
<rect x="320.36" y="365.5" width="3.5" height="5.600000000000023" fill="#d4d4d4" stroke="#1a1a1a" stroke-width="0.7"/>
<rect x="326.31" y="365.5" width="3.5" height="5.600000000000023" fill="#7d7d7d" stroke="#1a1a1a" stroke-width="0.7"/>
<line x1="343.48" y1="371.3" x2="343.48" y2="376.3" stroke="#888" stroke-width="0.7" />
<text x="343.48" y="380.8" font-size="6.6" text-anchor="middle" font-weight="normal" font-style="normal" fill="#000" >500</text>
<text transform="translate(339.03000000000003 357.0) rotate(-47)" font-size="7.6" text-anchor="middle" y="2.2" fill="#000" stroke-width="0.3">nd</text>
<rect x="341.73" y="365.5" width="3.5" height="5.600000000000023" fill="#d4d4d4" stroke="#1a1a1a" stroke-width="0.7"/>
<text transform="translate(349.63 357.0) rotate(-47)" font-size="7.6" text-anchor="middle" y="2.2" fill="#000" stroke-width="0.3">nd</text>
<line x1="364.85" y1="371.3" x2="364.85" y2="376.3" stroke="#888" stroke-width="0.7" />
<text x="364.85" y="380.8" font-size="6.6" text-anchor="middle" font-weight="normal" font-style="normal" fill="#000" >15.6</text>
<rect x="357.15000000000003" y="299.5" width="3.5" height="71.60000000000002" fill="#000" stroke="#1a1a1a" stroke-width="0.7"/>
<text transform="translate(366.75 357.0) rotate(-47)" font-size="7.6" text-anchor="middle" y="2.2" fill="#000" stroke-width="0.3">nd</text>
<rect x="369.05" y="365.5" width="3.5" height="5.600000000000023" fill="#7d7d7d" stroke="#1a1a1a" stroke-width="0.7"/>
<line x1="386.22" y1="371.3" x2="386.22" y2="376.3" stroke="#888" stroke-width="0.7" />
<text x="386.22" y="380.8" font-size="6.6" text-anchor="middle" font-weight="normal" font-style="normal" fill="#000" >62.5</text>
<rect x="378.52000000000004" y="320" width="3.5" height="51.10000000000002" fill="#000" stroke="#1a1a1a" stroke-width="0.7"/>
<rect x="384.47" y="288" width="3.5" height="83.10000000000002" fill="#d4d4d4" stroke="#1a1a1a" stroke-width="0.7"/>
<rect x="390.42" y="365.5" width="3.5" height="5.600000000000023" fill="#7d7d7d" stroke="#1a1a1a" stroke-width="0.7"/>
<line x1="407.59000000000003" y1="371.3" x2="407.59000000000003" y2="376.3" stroke="#888" stroke-width="0.7" />
<text x="407.59000000000003" y="380.8" font-size="6.6" text-anchor="middle" font-weight="normal" font-style="normal" fill="#000" >250</text>
<rect x="399.89000000000004" y="365.5" width="3.5" height="5.600000000000023" fill="#000" stroke="#1a1a1a" stroke-width="0.7"/>
<rect x="405.84000000000003" y="356" width="3.5" height="15.100000000000023" fill="#d4d4d4" stroke="#1a1a1a" stroke-width="0.7"/>
<rect x="411.79" y="365.5" width="3.5" height="5.600000000000023" fill="#7d7d7d" stroke="#1a1a1a" stroke-width="0.7"/>
<line x1="428.96000000000004" y1="371.3" x2="428.96000000000004" y2="376.3" stroke="#888" stroke-width="0.7" />
<text x="428.96000000000004" y="380.8" font-size="6.6" text-anchor="middle" font-weight="normal" font-style="normal" fill="#000" >500</text>
<text transform="translate(424.51000000000005 357.0) rotate(-47)" font-size="7.6" text-anchor="middle" y="2.2" fill="#000" stroke-width="0.3">nd</text>
<rect x="427.21000000000004" y="365.5" width="3.5" height="5.600000000000023" fill="#d4d4d4" stroke="#1a1a1a" stroke-width="0.7"/>
<text transform="translate(435.11 357.0) rotate(-47)" font-size="7.6" text-anchor="middle" y="2.2" fill="#000" stroke-width="0.3">nd</text>
<line x1="254.8" y1="363.9" x2="437.5" y2="363.9" stroke="#000" stroke-width="1.1" stroke-dasharray="1.0 2.3"/>
<line x1="272.5" y1="386.3" x2="351.8" y2="386.3" stroke="#333" stroke-width="0.6" />
<line x1="357.5" y1="386.3" x2="438.3" y2="386.3" stroke="#333" stroke-width="0.6" />
<text x="312" y="396.2" font-size="7" text-anchor="middle" font-weight="normal" font-style="normal" fill="#000" >Polyhexanide,</text>
<text x="312" y="405.0" font-size="7" text-anchor="middle" font-weight="normal" font-style="normal" fill="#000" >mg/L</text>
<text x="394.8" y="396.2" font-size="7" text-anchor="middle" font-weight="normal" font-style="normal" fill="#000" >Octenidine,</text>
<text x="394.8" y="405.0" font-size="7" text-anchor="middle" font-weight="normal" font-style="normal" fill="#000" >mg/L</text>
<text x="225.2" y="407.4" font-size="8" text-anchor="start" font-weight="bold" font-style="normal" fill="#000" >c</text>
<rect x="414.2" y="246.20000000000002" width="4" height="4" fill="#3a3a3a" stroke="#1a1a1a" stroke-width="0.7"/>
<text x="421.2" y="250.8" font-size="6.8" fill="#000"><tspan font-style="italic">E. coli</tspan> UTI89</text>
<rect x="414.2" y="254.6" width="4" height="4" fill="#d4d4d4" stroke="#1a1a1a" stroke-width="0.7"/>
<text x="421.2" y="259.2" font-size="6.8" fill="#000"><tspan font-style="italic">P. aeruginosa</tspan> 568</text>
<rect x="414.2" y="263.0" width="4" height="4" fill="#7d7d7d" stroke="#1a1a1a" stroke-width="0.7"/>
<text x="421.2" y="267.6" font-size="6.8" fill="#000"><tspan font-style="italic">P. mirabilis</tspan> CHD71</text>
<line x1="248.5" y1="434" x2="248.5" y2="564.5" stroke="#444" stroke-width="0.6" />
<line x1="248.2" y1="564.5" x2="480" y2="564.5" stroke="#9a9a9a" stroke-width="1.0" />
<line x1="245.3" y1="550.25" x2="248.5" y2="550.25" stroke="#444" stroke-width="0.6" />
<text x="243.3" y="552.75" font-size="7" text-anchor="end" font-weight="normal" font-style="normal" fill="#000" >2</text>
<line x1="245.3" y1="521.25" x2="248.5" y2="521.25" stroke="#444" stroke-width="0.6" />
<text x="243.3" y="523.75" font-size="7" text-anchor="end" font-weight="normal" font-style="normal" fill="#000" >4</text>
<line x1="245.3" y1="492.25" x2="248.5" y2="492.25" stroke="#444" stroke-width="0.6" />
<text x="243.3" y="494.75" font-size="7" text-anchor="end" font-weight="normal" font-style="normal" fill="#000" >6</text>
<line x1="245.3" y1="463.25" x2="248.5" y2="463.25" stroke="#444" stroke-width="0.6" />
<text x="243.3" y="465.75" font-size="7" text-anchor="end" font-weight="normal" font-style="normal" fill="#000" >8</text>
<line x1="245.3" y1="434.25" x2="248.5" y2="434.25" stroke="#444" stroke-width="0.6" />
<text x="243.3" y="436.75" font-size="7" text-anchor="end" font-weight="normal" font-style="normal" fill="#000" >10</text>
<text x="243.3" y="564.1" font-size="6.6" text-anchor="end" font-weight="normal" font-style="normal" fill="#000" >LOD</text>
<line x1="260" y1="556.8" x2="422.3" y2="556.8" stroke="#000" stroke-width="1.1" stroke-dasharray="1.0 2.3"/>
<text transform="translate(230 499.5) rotate(-90)" font-size="7.6" text-anchor="middle" fill="#000">log<tspan font-size="5.2" dy="1">10</tspan><tspan dy="-1"> CFU/mL</tspan></text>
<line x1="264.8" y1="564.5" x2="264.8" y2="569.5" stroke="#888" stroke-width="0.7" />
<text x="264.8" y="574.5" font-size="6.6" text-anchor="middle" font-weight="normal" font-style="normal" fill="#000" >Ctrl</text>
<rect x="252.05" y="450" width="5.699999999999989" height="114.29999999999995" fill="#000" stroke="#1a1a1a" stroke-width="0.7"/>
<rect x="261.95" y="452.25" width="5.7000000000000455" height="112.04999999999995" fill="#d4d4d4" stroke="#1a1a1a" stroke-width="0.7"/>
<rect x="271.84999999999997" y="480.5" width="5.7000000000000455" height="83.79999999999995" fill="#7d7d7d" stroke="#1a1a1a" stroke-width="0.7"/>
<line x1="300.45" y1="564.5" x2="300.45" y2="569.5" stroke="#888" stroke-width="0.7" />
<text x="300.45" y="574.5" font-size="6.6" text-anchor="middle" font-weight="normal" font-style="normal" fill="#000" >250</text>
<rect x="287.7" y="558.5" width="5.7000000000000455" height="5.7999999999999545" fill="#000" stroke="#1a1a1a" stroke-width="0.7"/>
<text transform="translate(303.45 551.6) rotate(-47)" font-size="7.6" text-anchor="middle" y="2.2" fill="#000" stroke-width="0.3">nd</text>
<rect x="307.49999999999994" y="558.5" width="5.7000000000000455" height="5.7999999999999545" fill="#7d7d7d" stroke="#1a1a1a" stroke-width="0.7"/>
<line x1="336.1" y1="564.5" x2="336.1" y2="569.5" stroke="#888" stroke-width="0.7" />
<text x="336.1" y="574.5" font-size="6.6" text-anchor="middle" font-weight="normal" font-style="normal" fill="#000" >500</text>
<text transform="translate(330.70000000000005 551.6) rotate(-47)" font-size="7.6" text-anchor="middle" y="2.2" fill="#000" stroke-width="0.3">nd</text>
<rect x="333.25" y="558.5" width="5.7000000000000455" height="5.7999999999999545" fill="#d4d4d4" stroke="#1a1a1a" stroke-width="0.7"/>
<text transform="translate(346.0 551.6) rotate(-47)" font-size="7.6" text-anchor="middle" y="2.2" fill="#000" stroke-width="0.3">nd</text>
<line x1="371.75" y1="564.5" x2="371.75" y2="569.5" stroke="#888" stroke-width="0.7" />
<text x="371.75" y="574.5" font-size="6.6" text-anchor="middle" font-weight="normal" font-style="normal" fill="#000" >250</text>
<rect x="359.0" y="558.5" width="5.7000000000000455" height="5.7999999999999545" fill="#000" stroke="#1a1a1a" stroke-width="0.7"/>
<text transform="translate(374.75 551.6) rotate(-47)" font-size="7.6" text-anchor="middle" y="2.2" fill="#000" stroke-width="0.3">nd</text>
<rect x="378.79999999999995" y="558.5" width="5.7000000000000455" height="5.7999999999999545" fill="#7d7d7d" stroke="#1a1a1a" stroke-width="0.7"/>
<line x1="407.4" y1="564.5" x2="407.4" y2="569.5" stroke="#888" stroke-width="0.7" />
<text x="407.4" y="574.5" font-size="6.6" text-anchor="middle" font-weight="normal" font-style="normal" fill="#000" >500</text>
<text transform="translate(401.0 551.6) rotate(-47)" font-size="7.6" text-anchor="middle" y="2.2" fill="#000" stroke-width="0.3">nd</text>
<rect x="404.54999999999995" y="558.5" width="5.7000000000000455" height="5.7999999999999545" fill="#d4d4d4" stroke="#1a1a1a" stroke-width="0.7"/>
<text transform="translate(413.09999999999997 551.6) rotate(-47)" font-size="7.6" text-anchor="middle" y="2.2" fill="#000" stroke-width="0.3">nd</text>
<line x1="284.3" y1="578.5" x2="349.3" y2="578.5" stroke="#333" stroke-width="0.6" />
<line x1="358.3" y1="578.5" x2="423.8" y2="578.5" stroke="#333" stroke-width="0.6" />
<text x="317" y="587.5" font-size="7" text-anchor="middle" font-weight="normal" font-style="normal" fill="#000" >Polyhexanide,</text>
<text x="317" y="595.8" font-size="7" text-anchor="middle" font-weight="normal" font-style="normal" fill="#000" >mg/L</text>
<text x="391" y="587.5" font-size="7" text-anchor="middle" font-weight="normal" font-style="normal" fill="#000" >Octenidine,</text>
<text x="391" y="595.8" font-size="7" text-anchor="middle" font-weight="normal" font-style="normal" fill="#000" >mg/L</text>
<text x="225.2" y="598.5" font-size="8" text-anchor="start" font-weight="bold" font-style="normal" fill="#000" >d</text>
<rect x="414.2" y="436.2" width="4" height="4" fill="#3a3a3a" stroke="#1a1a1a" stroke-width="0.7"/>
<text x="421.2" y="440.8" font-size="6.8" fill="#000"><tspan font-style="italic">E. coli</tspan> UTI89</text>
<rect x="414.2" y="444.59999999999997" width="4" height="4" fill="#d4d4d4" stroke="#1a1a1a" stroke-width="0.7"/>
<text x="421.2" y="449.2" font-size="6.8" fill="#000"><tspan font-style="italic">P. aeruginosa</tspan> 568</text>
<rect x="414.2" y="453.0" width="4" height="4" fill="#7d7d7d" stroke="#1a1a1a" stroke-width="0.7"/>
<text x="421.2" y="457.6" font-size="6.8" fill="#000"><tspan font-style="italic">P. mirabilis</tspan> CHD71</text>
</svg></body></html>
